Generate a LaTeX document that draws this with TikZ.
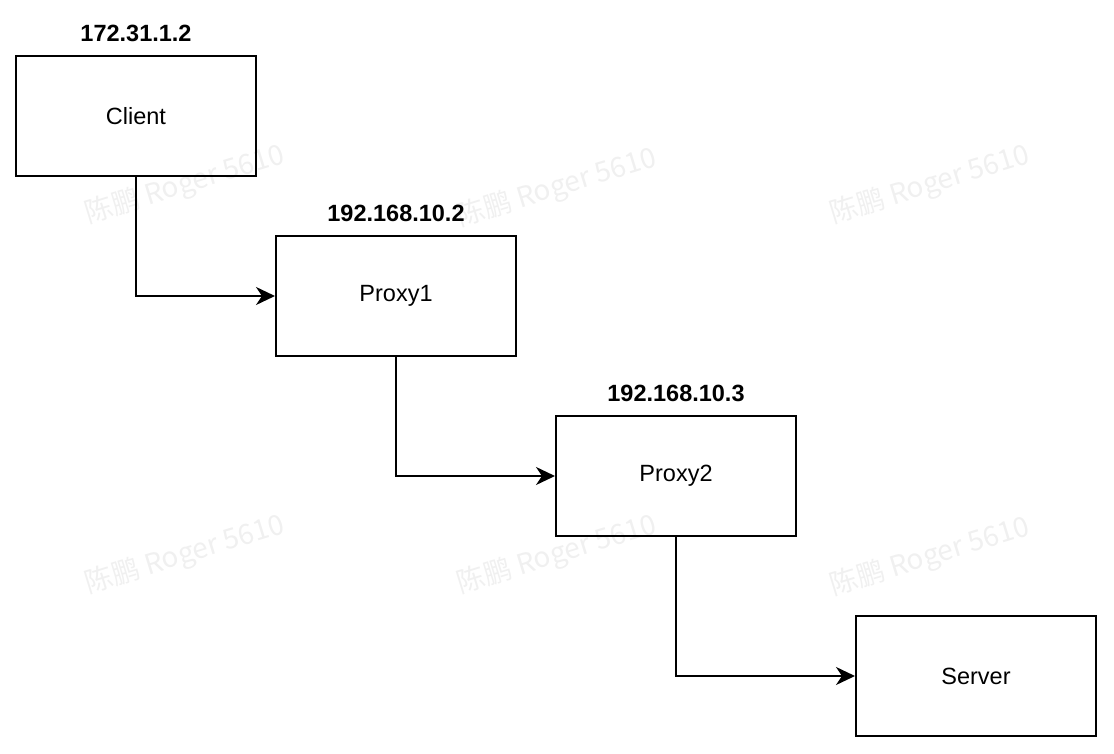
\documentclass[tikz,border=0pt]{standalone}
\usepackage{fontspec}
\setmainfont{Liberation Sans}
\newfontfamily\cjk{Noto Sans CJK SC}
\usepackage{tikz}
\usetikzlibrary{arrows.meta,positioning}
\definecolor{wmgray}{rgb}{0.94, 0.94, 0.94}
\tikzstyle{host}=[draw, line width=1pt, minimum width=120pt, minimum height=60pt, font=\fontsize{11.75}{14}\selectfont]
\tikzstyle{addr}=[inner sep=0pt, font=\fontsize{11.75}{14}\selectfont\bfseries]
\tikzstyle{link}=[line width=1pt, -{Stealth[length=9.5pt,width=9pt,inset=3pt]}]
\tikzstyle{wm}=[text=wmgray, rotate=17, font=\cjk\fontsize{14}{16}\selectfont]

\begin{document}
\begin{tikzpicture}[x=0.5pt,y=-0.5pt]
\useasboundingbox (0,0) rectangle (1114,754);
\foreach \wx/\wy in {185/185, 557/188, 930/185, 185/555, 557/555, 930/557}
  \node[wm] at (\wx,\wy) {陈鹏 Roger 5610};
\node[host] (client) at (136,116) {Client};
\node[host] (proxy1) at (396,296) {Proxy1};
\node[host] (proxy2) at (676,476) {Proxy2};
\node[host] (server) at (976,676) {Server};
\node[addr, above=6.5pt of client] (clientip) {172.31.1.2};
\node[addr, above=6.5pt of proxy1] (proxy1ip) {192.168.10.2};
\node[addr, above=6.5pt of proxy2] (proxy2ip) {192.168.10.3};
\draw[link] (client.south) |- (proxy1.west);
\draw[link] (proxy1.south) |- (proxy2.west);
\draw[link] (proxy2.south) |- (server.west);
\end{tikzpicture}
\end{document}
